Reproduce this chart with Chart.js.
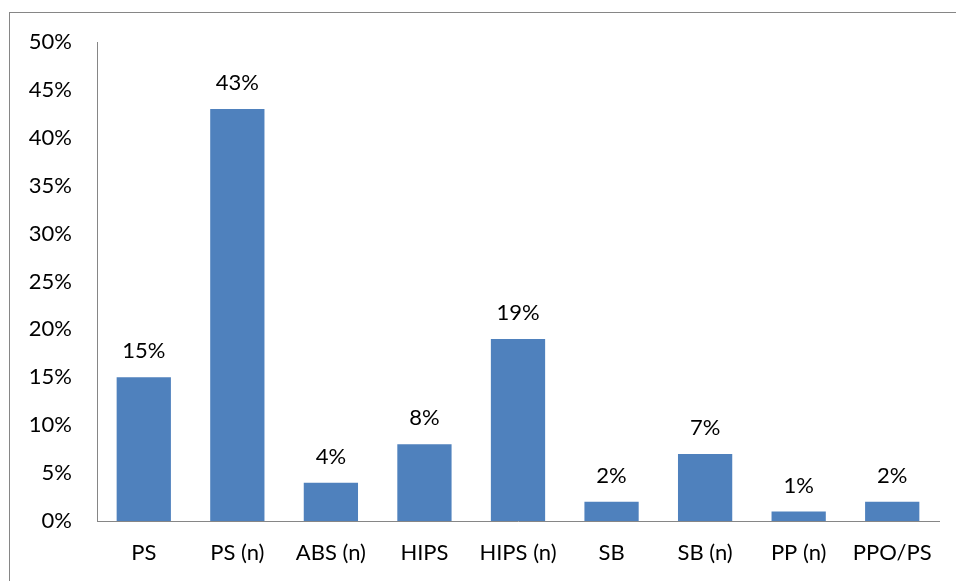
<!DOCTYPE html>
<html>
<head>
<meta charset="utf-8">
<script src="https://cdn.jsdelivr.net/npm/chart.js@4"></script>
<style>
  html, body { margin: 0; padding: 0; background: #fff; overflow: hidden; }
  #wrap { position: relative; width: 956px; height: 581px; }
  #frame { position: absolute; left: 9px; top: 12px; width: 980px; height: 600px; border: 1px solid #868686; box-sizing: border-box; }
  canvas { position: absolute; left: 0; top: 0; }
</style>
</head>
<body>
<div id="wrap">
  <div id="frame"></div>
  <canvas id="chart" width="956" height="581"></canvas>
</div>
<script>
// categories and values
const categories = ['PS', 'PS (n)', 'ABS (n)', 'HIPS', 'HIPS (n)', 'SB', 'SB (n)', 'PP (n)', 'PPO/PS'];
const shares = [15, 43, 4, 8, 19, 2, 7, 1, 2];

const fontFam = "Lato, 'Open Sans', sans-serif";
const fontSize = 22;

// draws the % above each bar
const barLabels = {
    id: 'barLabels',
    afterDatasetsDraw(chart) {
        const ctx = chart.ctx;
        const meta = chart.getDatasetMeta(0);
        ctx.save();
        ctx.font = fontSize + 'px ' + fontFam;
        ctx.fillStyle = '#000';
        ctx.textAlign = 'center';
        ctx.textBaseline = 'middle';
        meta.data.forEach((bar, i) => {
            ctx.fillText(shares[i] + '%', bar.x, bar.y - 26);
        });
        ctx.restore();
    }
};

let ctx = document.getElementById('chart');
let myChart = new Chart(ctx, {
    type: 'bar',
    data: {
        labels: categories,
        datasets: [{
            data: shares,
            backgroundColor: '#4F81BD',
            categoryPercentage: 1,
            barPercentage: 0.58
        }]
    },
    options: {
        responsive: false,
        animation: false,
        layout: { padding: { top: 42, right: 17, left: 0, bottom: 0 } },
        plugins: { legend: { display: false }, tooltip: { enabled: false } },
        scales: {
            x: {
                grid: { display: false, drawTicks: false },
                border: { color: '#868686', width: 1 },
                ticks: { color: '#000', font: { family: fontFam, size: fontSize }, padding: 19, maxRotation: 0 },
                afterFit(scale) { scale.height = 60; }
            },
            y: {
                min: 0,
                max: 50,
                grid: { display: false, drawTicks: false },
                border: { color: '#868686', width: 1 },
                ticks: {
                    stepSize: 5,
                    color: '#000',
                    font: { family: fontFam, size: fontSize },
                    padding: 25,
                    callback: (v) => v + '%'
                },
                afterFit(scale) { scale.width = 97; }
            }
        }
    },
    plugins: [barLabels]
});
</script>
</body>
</html>
